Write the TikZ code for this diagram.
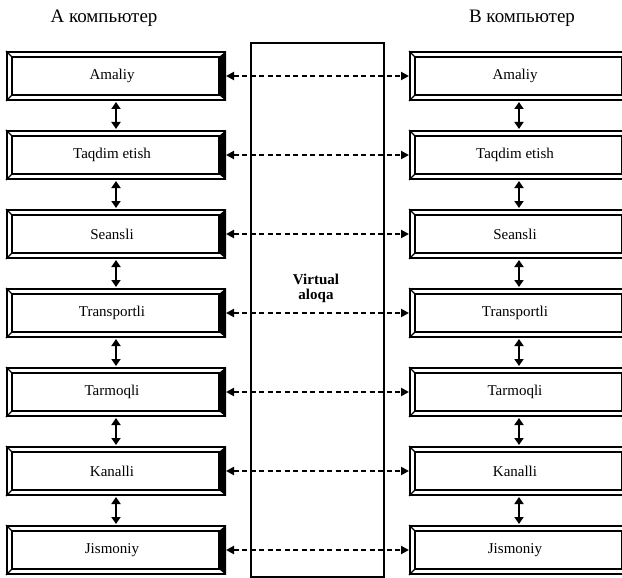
\documentclass[tikz,border=0pt]{standalone}
\usepackage{fontspec}
\setmainfont{Liberation Serif}
\usetikzlibrary{arrows.meta}

\begin{document}
\begin{tikzpicture}[x=1pt, y=-1pt,
            layer/.style={draw, line width=2pt, minimum width=218pt, minimum height=48pt, inner sep=0pt, font=\fontsize{15}{17}\selectfont},
            link/.style={line width=2pt, {Triangle[length=7pt,width=9pt]}-{Triangle[length=7pt,width=9pt]}, shorten <=1pt, shorten >=1pt},
            virt/.style={line width=2pt, dash pattern=on 5pt off 3.5pt, {Triangle[length=8pt,width=8pt]}-{Triangle[length=8pt,width=8pt]}},
            head/.style={font=\fontsize{19}{21}\selectfont}
            ]
            \useasboundingbox (0,0) rectangle (622,578);
            \node[head] (hA) at (104,18) {А компьютер};
            \node[head] (hB) at (522,18) {В компьютер};
            \node[draw, line width=2pt, minimum width=133pt, minimum height=534pt, inner sep=0pt] (mid) at (317.5,310) {};
            \node[font=\bfseries\fontsize{15}{15}\selectfont, align=center] (vl) at (316,288) {Virtual\\aloqa};

            \foreach \t [count=\i] in {Amaliy, Taqdim etish, Seansli, Transportli, Tarmoqli, Kanalli, Jismoniy} {
                \node[layer] (a\i) at (116,{76+79*(\i-1)}) {\t\hspace*{8pt}};
                \node[layer] (b\i) at (519,{76+79*(\i-1)}) {\t\hspace*{8pt}};
                \foreach \b in {a\i, b\i} {
                    \draw[line width=1.3pt] ([shift={(6,6)}]\b.north west) rectangle ([shift={(-7,-6)}]\b.south east);
                    \draw[line width=1.3pt] (\b.north west) -- ++(6,6) (\b.south west) -- ++(6,-6);
                    \fill (\b.north east) -- ++(-7,6) -- ([shift={(-7,-6)}]\b.south east) -- (\b.south east) -- cycle;
                }
                \draw[virt] (a\i.east) -- (b\i.west);
                \ifnum\i>1
                    \pgfmathtruncatemacro\k{\i-1}
                    \draw[link] (a\k) -- (a\i);
                    \draw[link] (b\k) -- (b\i);
                \fi
            }
            \end{tikzpicture}
\end{document}
